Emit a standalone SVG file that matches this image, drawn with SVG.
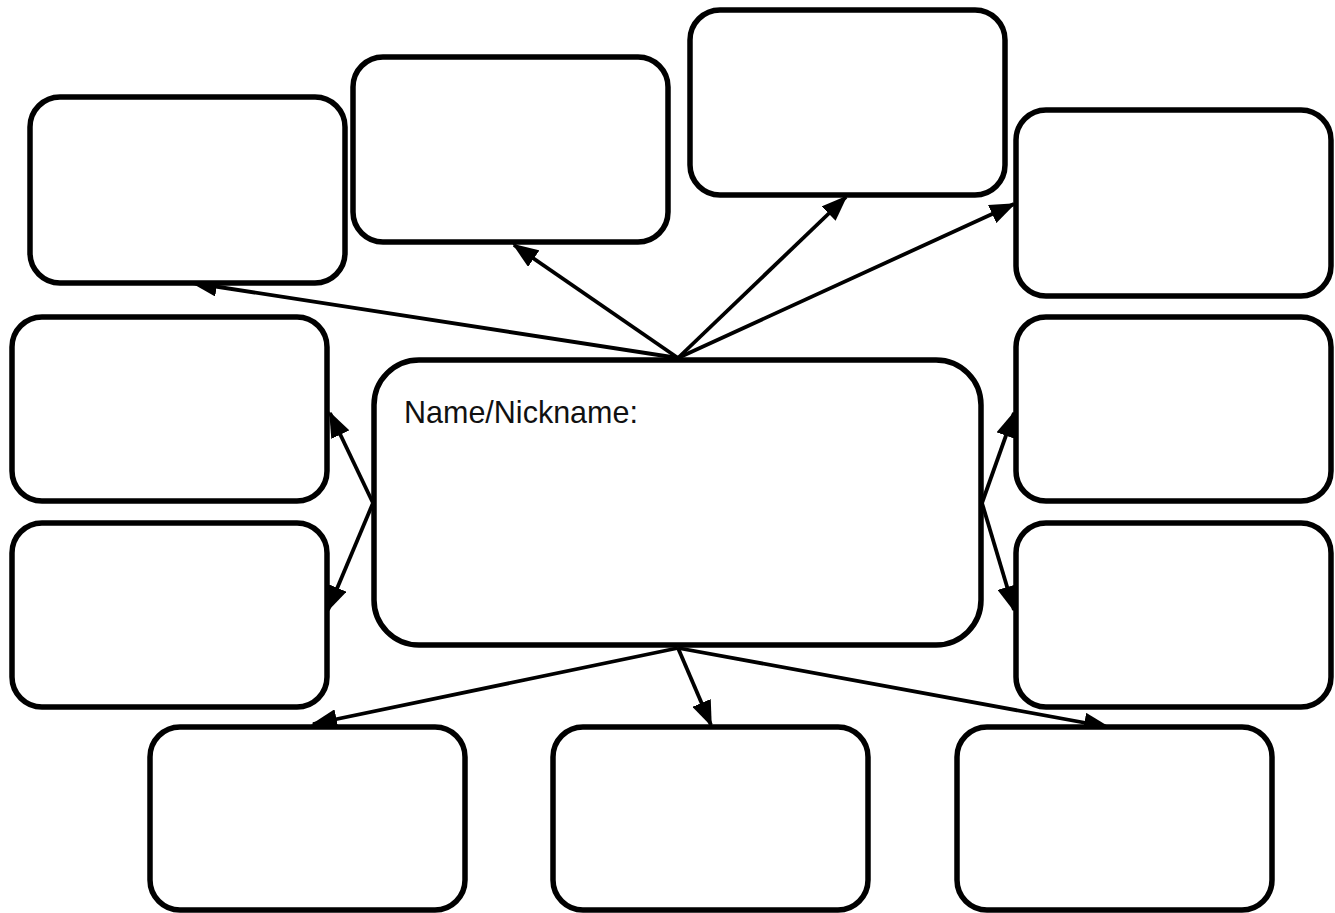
<svg xmlns="http://www.w3.org/2000/svg" width="1335" height="913" viewBox="0 0 1335 913">
<style>
.box{fill:#fff;stroke:#000;stroke-width:5.5}
.conn{stroke:#000;stroke-width:3.8;fill:none;marker-end:url(#ah)}
.lbl{font-family:"Liberation Sans",Arial,sans-serif;font-size:30.5px;fill:#111}
</style>
<defs>
<marker id="ah" viewBox="0 0 26 20" refX="24" refY="10" markerWidth="26" markerHeight="20" markerUnits="userSpaceOnUse" orient="auto">
<path d="M0,0 L26,10 L0,20 z" fill="#000"/>
</marker>
</defs>
<rect width="1335" height="913" fill="#fff"/>
<g id="connectors">
<line class="conn" x1="678" y1="358" x2="193" y2="283"/>
<line class="conn" x1="678" y1="358" x2="514" y2="245"/>
<line class="conn" x1="678" y1="358" x2="846" y2="197"/>
<line class="conn" x1="678" y1="358" x2="1014" y2="204"/>
<line class="conn" x1="373" y1="503" x2="330" y2="413"/>
<line class="conn" x1="373" y1="503" x2="328" y2="610"/>
<line class="conn" x1="982" y1="503" x2="1014" y2="413"/>
<line class="conn" x1="982" y1="503" x2="1014" y2="610"/>
<line class="conn" x1="678" y1="648" x2="313" y2="724"/>
<line class="conn" x1="678" y1="648" x2="711" y2="725"/>
<line class="conn" x1="678" y1="648" x2="1108" y2="727"/>
</g>
<g id="node-center"><rect class="box" x="374" y="360" width="607" height="285" rx="45"/><text class="lbl" x="404" y="423">Name/Nickname:</text></g>
<g id="node-1"><rect class="box" x="30" y="97" width="315" height="186" rx="30"/></g>
<g id="node-2"><rect class="box" x="353" y="57" width="315" height="185" rx="30"/></g>
<g id="node-3"><rect class="box" x="690" y="10" width="315" height="185" rx="30"/></g>
<g id="node-4"><rect class="box" x="1016" y="110" width="315" height="186" rx="30"/></g>
<g id="node-5"><rect class="box" x="12" y="317" width="315" height="184" rx="30"/></g>
<g id="node-6"><rect class="box" x="12" y="523" width="315" height="184" rx="30"/></g>
<g id="node-7"><rect class="box" x="1016" y="317" width="315" height="184" rx="30"/></g>
<g id="node-8"><rect class="box" x="1016" y="523" width="315" height="184" rx="30"/></g>
<g id="node-9"><rect class="box" x="150" y="727" width="315" height="183" rx="30"/></g>
<g id="node-10"><rect class="box" x="553" y="727" width="315" height="183" rx="30"/></g>
<g id="node-11"><rect class="box" x="957" y="727" width="315" height="183" rx="30"/></g>
</svg>
